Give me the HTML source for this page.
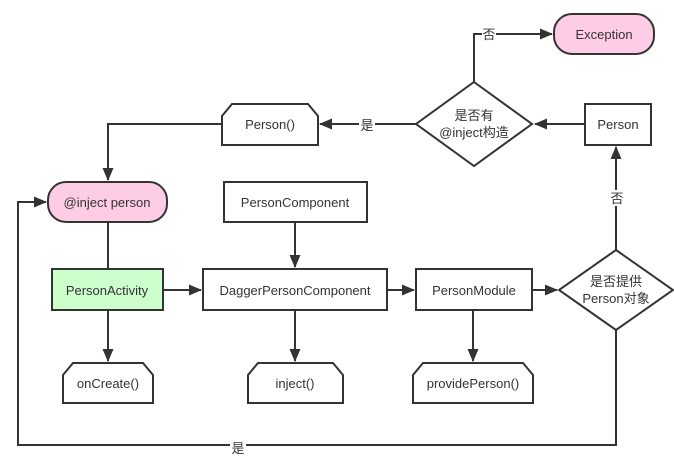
<!DOCTYPE html>
<html><head><meta charset="utf-8"><style>
html,body{margin:0;padding:0;background:#fff;}
svg text{font-family:"Liberation Sans","Noto Sans CJK SC",sans-serif;font-size:13px;fill:#333;}
</style></head><body>
<svg width="674" height="456" viewBox="0 0 674 456" xmlns="http://www.w3.org/2000/svg">
<defs><marker id="a" markerWidth="13" markerHeight="11" refX="12" refY="5.5" orient="auto" markerUnits="userSpaceOnUse"><path d="M0,0 L13,5.5 L0,11 z" fill="#333"/></marker></defs>
<g stroke="#333" stroke-width="2" fill="none">
<path d="M474,82 V34 H552" marker-end="url(#a)"/>
<path d="M585,124 H535" marker-end="url(#a)"/>
<path d="M416,124 H320" marker-end="url(#a)"/>
<path d="M222,124 H108 V180" marker-end="url(#a)"/>
<path d="M108,222 V269"/>
<path d="M295,222 V267" marker-end="url(#a)"/>
<path d="M163,290 H201" marker-end="url(#a)"/>
<path d="M387,290 H414" marker-end="url(#a)"/>
<path d="M532,290 H557" marker-end="url(#a)"/>
<path d="M616,250 V147" marker-end="url(#a)"/>
<path d="M616,330 V445 H18 V202 H46" marker-end="url(#a)"/>
<path d="M108,310 V361" marker-end="url(#a)"/>
<path d="M295,310 V361" marker-end="url(#a)"/>
<path d="M473,310 V361" marker-end="url(#a)"/>
<rect x="554" y="14" width="100" height="40" rx="18" fill="#ffcce6"/>
<path d="M474,82 L532,124 L474,166 L416,124 Z" fill="#fff"/>
<rect x="585" y="104" width="66" height="41" fill="#fff"/>
<path d="M232,104 H308 L318,116 V145 H222 V116 Z" fill="#fff"/>
<rect x="48" y="182" width="119" height="40" rx="18" fill="#ffcce6"/>
<rect x="224" y="182" width="143" height="40" fill="#fff"/>
<rect x="52" y="269" width="111" height="41" fill="#ccffcc"/>
<rect x="203" y="269" width="184" height="41" fill="#fff"/>
<rect x="416" y="269" width="116" height="41" fill="#fff"/>
<path d="M616,250 L673,290 L616,330 L559,290 Z" fill="#fff"/>
<path d="M73,363 H143 L153,375 V403 H63 V375 Z" fill="#fff"/>
<path d="M258,363 H333 L343,375 V403 H248 V375 Z" fill="#fff"/>
<path d="M423,363 H523 L533,375 V403 H413 V375 Z" fill="#fff"/>
</g>
<g stroke="none">
<rect x="482" y="26" width="14" height="16" fill="#fff"/>
<rect x="359" y="117" width="16" height="16" fill="#fff"/>
<rect x="609" y="190" width="16" height="16" fill="#fff"/>
<rect x="230" y="438" width="16" height="16" fill="#fff"/>
</g>
<g text-anchor="middle">
<text x="489" y="39">否</text>
<text x="604" y="39">Exception</text>
<text x="474" y="120">是否有</text>
<text x="474" y="137">@inject构造</text>
<text x="618" y="129">Person</text>
<text x="367" y="130">是</text>
<text x="270" y="129">Person()</text>
<text x="107" y="207">@inject person</text>
<text x="295" y="207">PersonComponent</text>
<text x="107" y="295">PersonActivity</text>
<text x="295" y="295">DaggerPersonComponent</text>
<text x="474" y="295">PersonModule</text>
<text x="616" y="286">是否提供</text>
<text x="616" y="303">Person对象</text>
<text x="617" y="203">否</text>
<text x="108" y="388">onCreate()</text>
<text x="295" y="388">inject()</text>
<text x="473" y="388">providePerson()</text>
<text x="238" y="453">是</text>
</g>
</svg>
</body></html>
